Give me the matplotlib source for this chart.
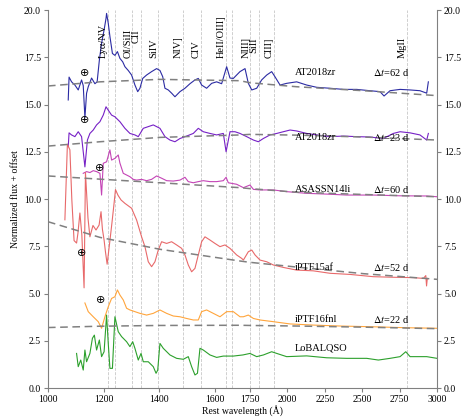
import matplotlib
matplotlib.use('Agg')
import matplotlib.pyplot as plt
import numpy as np

plt.rcParams['font.family'] = ['Liberation Serif', 'DejaVu Serif']
plt.rcParams['mathtext.fontset'] = 'stix'

# --- spectra (rest wavelength in A, normalized flux + offset) ---
zr62_wl = [1073, 1076, 1085, 1097, 1109, 1121, 1127, 1133, 1139, 1145, 1157, 1169, 1177, 1185, 1193,
           1202, 1209, 1211, 1217, 1223, 1232, 1241, 1250, 1259, 1269, 1277, 1289, 1301, 1313, 1323,
           1331, 1341, 1355, 1373, 1391, 1403, 1413, 1421, 1433, 1445, 1457, 1475, 1493, 1511, 1529,
           1541, 1553, 1571, 1589, 1607, 1625, 1643, 1655, 1667, 1691, 1717, 1739, 1762, 1795, 1828,
           1862, 1895, 1917, 1951, 1995, 2062, 2129, 2196, 2285, 2374, 2463, 2552, 2619, 2646, 2686,
           2753, 2820, 2886, 2931, 2942]
zr62_fl = [15.24, 16.45, 16.2, 16.03, 15.77, 16.3, 16.0, 14.3, 15.6, 15.94, 16.4, 16.1, 16.2, 17.35, 18.24,
           18.94, 19.56, 19.82, 19.3, 18.6, 17.7, 17.6, 17.8, 17.44, 17.26, 17.0, 16.8, 16.56, 16.03, 15.68,
           15.86, 16.38, 16.56, 16.74, 16.9, 16.8, 16.47, 15.86, 15.77, 15.6, 15.41, 15.68, 15.86, 16.1, 16.3,
           16.38, 16.03, 15.86, 16.12, 16.2, 16.1, 17.0, 16.4, 16.38, 16.74, 16.9, 16.12, 15.77, 15.86, 16.3,
           16.56, 16.74, 16.47, 16.03, 16.12, 16.2, 16.03, 15.91, 15.86, 15.8, 15.8, 15.73, 15.68, 15.45, 15.73,
           15.8, 15.77, 15.73, 15.6, 16.2]

zr23_wl = [1073, 1076, 1085, 1097, 1109, 1121, 1133, 1142, 1151, 1163, 1175, 1187, 1199, 1209, 1217,
           1229, 1241, 1259, 1277, 1295, 1313, 1325, 1343, 1361, 1379, 1391, 1403, 1421, 1439, 1457,
           1475, 1499, 1523, 1541, 1559, 1583, 1607, 1631, 1641, 1655, 1673, 1691, 1728, 1773, 1806,
           1839, 1884, 1929, 1973, 2018, 2062, 2129, 2196, 2285, 2374, 2463, 2552, 2641, 2708, 2753,
           2820, 2886, 2931, 2942]
zr23_fl = [12.77, 13.5, 13.39, 13.3, 13.56, 13.3, 11.7, 13.12, 13.47, 13.65, 13.92, 14.09, 14.44, 14.88, 14.7,
           14.44, 14.35, 14.09, 13.74, 13.47, 13.39, 13.3, 13.74, 13.83, 13.92, 13.83, 13.74, 13.3, 13.12, 13.03,
           13.2, 13.33, 13.47, 13.74, 13.56, 13.47, 13.39, 13.47, 12.5, 13.56, 13.56, 13.47, 13.3, 13.12, 13.03,
           13.2, 13.39, 13.47, 13.56, 13.65, 13.6, 13.47, 13.39, 13.3, 13.33, 13.3, 13.28, 13.2, 13.47, 13.56,
           13.5, 13.39, 13.12, 13.47]

li_wl = [1127, 1139, 1151, 1163, 1175, 1187, 1193, 1199, 1211, 1223, 1229, 1241, 1253, 1259, 1271,
         1283, 1295, 1307, 1319, 1337, 1355, 1373, 1391, 1409, 1427, 1451, 1475, 1493, 1505, 1523,
         1541, 1559, 1583, 1607, 1631, 1641, 1649, 1679, 1706, 1750, 1773, 1817, 1906, 1995, 2129,
         2263, 2396, 2574, 2753, 2931, 3000]
li_fl = [11.36, 11.45, 11.4, 11.5, 11.45, 11.36, 10.21, 11.89, 11.97, 12.6, 12.06, 12.15, 12.33, 11.9, 11.36,
         11.27, 11.18, 11.04, 11.0, 11.04, 10.97, 11.04, 11.22, 11.1, 10.97, 10.95, 11.0, 11.15, 10.92, 10.86,
         10.92, 10.97, 10.92, 10.92, 10.97, 11.15, 10.86, 10.78, 10.6, 10.74, 10.51, 10.48, 10.48, 10.39, 10.3,
         10.26, 10.21, 10.21, 10.17, 10.16, 10.12]

p15_wl = [1061, 1070, 1079, 1086, 1094, 1103, 1108, 1115, 1122, 1130, 1135, 1144, 1151, 1162, 1173,
          1184, 1191, 1196, 1202, 1207, 1213, 1223, 1230, 1238, 1243, 1252, 1263, 1277, 1301, 1319,
          1337, 1349, 1361, 1373, 1385, 1397, 1409, 1427, 1445, 1463, 1481, 1493, 1505, 1517, 1529,
          1541, 1553, 1565, 1583, 1601, 1619, 1637, 1655, 1679, 1697, 1706, 1739, 1762, 1784, 1817,
          1862, 1906, 1973, 2062, 2173, 2285, 2419, 2574, 2708, 2842, 2909, 2925, 2930, 2935]
p15_fl = [8.9, 12.9, 12.6, 9.95, 7.8, 7.67, 8.2, 9.26, 8.1, 5.3, 11.4, 9.0, 8.0, 8.6, 8.36,
          8.62, 9.33, 8.4, 7.83, 7.2, 6.55, 7.8, 8.7, 9.78, 10.5, 10.2, 9.95, 9.77, 9.51, 8.89,
          8.0, 7.48, 6.68, 6.42, 6.68, 7.3, 7.74, 7.65, 7.74, 7.57, 7.39, 7.04, 6.51, 6.15, 6.33,
          7.04, 7.74, 8.0, 7.83, 7.65, 7.48, 7.57, 7.39, 7.04, 6.86, 6.77, 7.21, 7.3, 7.04, 6.77,
          6.68, 6.51, 6.38, 6.24, 6.2, 6.07, 6.01, 5.89, 5.86, 5.84, 5.8, 5.95, 5.4, 5.8]

p16_wl = [1133, 1145, 1163, 1181, 1193, 1205, 1217, 1229, 1241, 1250, 1259, 1271, 1283, 1295, 1313,
          1331, 1355, 1379, 1403, 1427, 1451, 1475, 1499, 1523, 1541, 1553, 1571, 1595, 1619, 1643,
          1667, 1691, 1706, 1739, 1773, 1817, 1906, 2018, 2173, 2352, 2574, 2797, 3000]
p16_fl = [4.5, 4.04, 3.77, 3.51, 3.16, 3.77, 4.3, 4.74, 4.83, 5.19, 4.92, 4.66, 4.22, 4.13, 4.04,
          3.95, 3.86, 3.95, 4.13, 3.95, 3.81, 3.77, 3.68, 3.6, 3.6, 4.04, 4.13, 3.95, 3.77, 4.04,
          4.04, 3.77, 3.77, 3.86, 3.68, 3.6, 3.51, 3.39, 3.33, 3.28, 3.24, 3.19, 3.16]

qso_wl = [1103, 1109, 1118, 1127, 1133, 1139, 1151, 1160, 1167, 1175, 1185, 1193, 1202, 1211, 1217,
          1223, 1232, 1241, 1253, 1265, 1283, 1295, 1305, 1313, 1325, 1335, 1343, 1361, 1379, 1389,
          1395, 1403, 1415, 1439, 1463, 1487, 1505, 1517, 1529, 1538, 1547, 1559, 1583, 1607, 1631,
          1667, 1703, 1750, 1795, 1840, 1895, 1929, 1995, 2129, 2263, 2396, 2530, 2608, 2686, 2753,
          2791, 2820, 2931, 3000]
qso_fl = [1.83, 1.13, 1.48, 0.95, 2.01, 1.39, 1.83, 2.63, 2.8, 2.01, 2.54, 1.66, 1.92, 3.86, 2.36,
          1.04, 1.04, 3.77, 2.98, 2.72, 2.45, 2.19, 2.45, 2.1, 1.48, 1.83, 1.39, 1.39, 1.13, 0.78,
          0.95, 2.36, 2.1, 1.75, 1.57, 1.52, 1.66, 1.13, 0.69, 0.78, 2.1, 2.01, 1.75, 1.62, 1.69,
          1.69, 1.75, 1.83, 1.66, 1.75, 1.92, 1.83, 1.66, 1.7, 1.6, 1.57, 1.57, 1.48, 1.57, 1.66,
          1.92, 1.66, 1.66, 1.57]

# dashed continuum fits
bb_wl = [1000, 1187, 1403, 1691, 1750, 2062, 2508, 3000]
bb_zr62 = [15.98, 16.2, 16.33, 16.26, 16.15, 15.94, 15.73, 15.47]
bb_zr23 = [12.8, 13.03, 13.26, 13.39, 13.42, 13.38, 13.28, 13.12]
bb_li = [11.22, 11.05, 10.86, 10.6, 10.55, 10.36, 10.24, 10.12]
bb_p15 = [8.8, 7.97, 7.34, 6.72, 6.65, 6.4, 6.05, 5.75]
bb_p16 = [3.2, 3.27, 3.31, 3.32, 3.31, 3.28, 3.22, 3.14]

names = ['AT2018zr', 'AT2018zr', 'ASASSN14li', 'iPTF15af', 'iPTF16fnl', 'LoBALQSO']
epochs = ['62', '23', '60', '52', '22', None]
label_y = [16.67, 13.28, 10.48, 6.40, 3.65, 2.12]
colors = ['#2b2ba3', '#7620c6', '#c444b6', '#e8696a', '#ffa53c', '#2ca02c']

line_wl = [1216, 1240, 1304, 1335, 1397, 1486, 1549, 1640, 1663, 1750, 1808, 1909, 2798]
line_lbl = [(1216, 'Lyα/NV'), (1335, 'OI/SiII\nCII'), (1397, 'SiIV'), (1486, 'NIV]'),
            (1549, 'CIV'), (1640, 'HeII/OIII]'), (1808, 'NIII]\nSiII'), (1909, 'CIII]'),
            (2798, 'MgII')]

earth_x = [1133, 1133, 1187, 1121, 1191]
earth_y = [16.68, 14.18, 11.66, 7.16, 4.66]


def fwd(x):
    x = np.asarray(x, dtype=float)
    return np.where(x <= 1700, (x - 1000) / 700., 1 + (x - 1700) / 1300.)


def inv(u):
    u = np.asarray(u, dtype=float)
    return np.where(u <= 1, 1000 + 700. * u, 1700 + 1300. * (u - 1))


fig = plt.figure(figsize=(4.61, 4.17), dpi=100)
ax = fig.add_axes([0.104, 0.0695, 0.844, 0.9065])
ax.set_xscale('function', functions=(fwd, inv))
ax.set_xlim(1000, 3000)
ax.set_ylim(0, 20)

for w in line_wl:
    ax.axvline(w, color='#c8c8c8', ls='--', lw=0.6, zorder=0)

spectra = [(zr62_wl, zr62_fl), (zr23_wl, zr23_fl), (li_wl, li_fl),
           (p15_wl, p15_fl), (p16_wl, p16_fl), (qso_wl, qso_fl)]
for (w, f), c in zip(spectra, colors):
    ax.plot(w, f, color=c, lw=0.8, zorder=2)

for bb in [bb_zr62, bb_zr23, bb_li, bb_p15, bb_p16]:
    ax.plot(bb_wl, bb, color='#808080', ls=(0, (5, 3)), lw=1.1, zorder=3)

for name, ep, y in zip(names, epochs, label_y):
    ax.text(2050, y, name, fontsize=7.5, va='center', ha='left', zorder=4)
    if ep is not None:
        ax.text(2570, y, r'$\Delta t$=' + ep + ' d', fontsize=7.5, va='center', ha='left', zorder=4)

for w, s in line_lbl:
    ax.text(w, 17.45, s, rotation=90, fontsize=7.5, ha='right', va='bottom',
            linespacing=0.9, zorder=4)

for x, y in zip(earth_x, earth_y):
    ax.text(x, y, '⊕', fontsize=8, ha='center', va='center', family='DejaVu Sans', zorder=5)

ax.set_xticks([1000, 1200, 1400, 1600, 1750, 2000, 2250, 2500, 2750, 3000])
ax.set_xticklabels(['1000', '1200', '1400', '1600', '1750', '2000', '2250', '2500', '2750', '3000'])
ax.set_yticks([0, 2.5, 5, 7.5, 10, 12.5, 15, 17.5, 20])
ax.tick_params(axis='both', labelsize=7, color='#808080', length=3, width=0.8, pad=2)
ax.tick_params(axis='y', right=True, labelright=True)
ax.spines['top'].set_visible(False)
for s in ['left', 'right', 'bottom']:
    ax.spines[s].set_color('#808080')
ax.set_xlabel('Rest wavelength (Å)', fontsize=7, labelpad=1)
ax.set_ylabel('Normalized flux + offset', fontsize=7, labelpad=3)

fig.savefig('out.png', dpi=100)
